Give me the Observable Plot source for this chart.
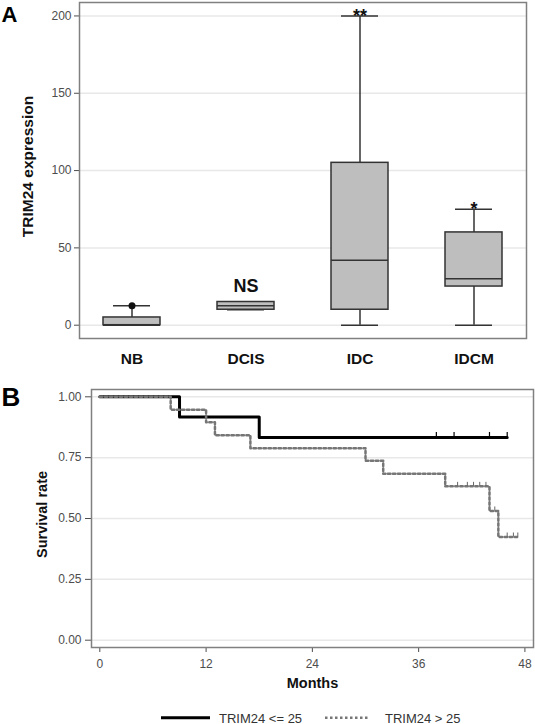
<!DOCTYPE html>
<html>
<head>
<meta charset="utf-8">
<script src="https://cdn.jsdelivr.net/npm/d3@7"></script>
<script src="https://cdn.jsdelivr.net/npm/@observablehq/plot@0.6"></script>
<style>
  body { margin: 0; background: #fff; }
  #wrap { position: relative; width: 535px; height: 724px; font-family: "Liberation Sans", Arial, sans-serif; background:#fff; overflow:hidden; }
  #a { position: absolute; left: 0; top: 0; }
  #b { position: absolute; left: 0; top: 372px; }
  #legend { position: absolute; left: 0; top: 709px; width: 535px; height: 15px; }
  #legend span { position: absolute; font-size: 13px; line-height: 15px; color: #333; white-space: nowrap; }
</style>
</head>
<body>
<div id="wrap">
  <div id="a"></div>
  <div id="b"></div>
  <div id="legend"></div>
</div>
<script>
// ---- Panel A: box plot data ----
const groups = ["NB", "DCIS", "IDC", "IDCM"];
const whiskerLow = [0, 10, 0, 0];
const q1 = [0, 10, 10, 25];
const median = [0, 12.5, 42, 30];
const q3 = [5, 15, 105, 60];
const whiskerHigh = [12.5, 15, 200, 75];
const outlierGroups = ["NB"];
const outlierValues = [12.5];
const sigLabels = ["", "NS", "**", "*"];
const sigY = [null, 25, 200, 75];
const yTicksA = [0, 50, 100, 150, 200];

// ---- Panel B: Kaplan-Meier data ----
const kmGroups = ["TRIM24 <= 25", "TRIM24 > 25"];
const lowTimes = [0, 9, 18, 46];
const lowSurv = [1, 0.917, 0.833, 0.833];
const lowCensorTimes = [38, 40, 44, 46];
const lowCensorSurv = [0.833, 0.833, 0.833, 0.833];
const highTimes = [0, 8, 12, 13, 17, 30, 32, 39, 44, 45, 47.2];
const highSurv = [1, 0.947, 0.895, 0.842, 0.789, 0.737, 0.684, 0.632, 0.531, 0.424, 0.424];
const highCensorTimes = [40.4, 41.5, 42.2, 42.9, 43.6, 44.6, 46.0, 46.7, 47.2];
const highCensorSurv = [0.632, 0.632, 0.632, 0.632, 0.632, 0.531, 0.424, 0.424, 0.424];
const xTicksB = [0, 12, 24, 36, 48];
const yTicksB = [0, 0.25, 0.5, 0.75, 1];

const FONT = "Liberation Sans, Arial, sans-serif";

// ---- build tables ----
const boxes = groups.map((g, i) => ({group: g, lo: whiskerLow[i], q1: q1[i], med: median[i], q3: q3[i], hi: whiskerHigh[i]}));
const outliers = outlierGroups.map((g, i) => ({group: g, value: outlierValues[i]}));
const sigs = groups.map((g, i) => ({group: g, label: sigLabels[i], y: sigY[i]})).filter(d => d.label);

const BOX = "#333333";
const chartA = Plot.plot({
  width: 535, height: 372,
  marginTop: 2, marginBottom: 34, marginLeft: 79, marginRight: 9,
  style: {fontFamily: FONT, fontSize: "12px", color: "#4d4d4d", background: "#fff"},
  x: {type: "band", domain: groups, paddingInner: 0.5, paddingOuter: 0.21},
  y: {domain: [-8.6, 208.7]},
  marks: [
    Plot.gridY(yTicksA, {stroke: "#e8e8e8", strokeOpacity: 1, strokeWidth: 1.5}),
    Plot.axisY(yTicksA, {tickSize: 5, tickPadding: 3, fontSize: 12, label: null}),
    Plot.axisX({tickSize: 0, tickPadding: 14, fontSize: 15.5, fontWeight: "bold", fill: "#111", label: null}),
    Plot.ruleX(boxes, {x: "group", y1: "lo", y2: "q1", stroke: BOX, strokeWidth: 1.5}),
    Plot.ruleX(boxes, {x: "group", y1: "q3", y2: "hi", stroke: BOX, strokeWidth: 1.5}),
    Plot.tickY(boxes, {x: "group", y: "lo", insetLeft: 10, insetRight: 10, stroke: BOX, strokeWidth: 1.5}),
    Plot.tickY(boxes, {x: "group", y: "hi", insetLeft: 10, insetRight: 10, stroke: BOX, strokeWidth: 1.5}),
    Plot.barY(boxes, {x: "group", y1: "q1", y2: "q3", fill: "#bebebe", stroke: BOX, strokeWidth: 1.5}),
    Plot.tickY(boxes, {x: "group", y: "med", stroke: BOX, strokeWidth: 1.5}),
    Plot.dot(outliers, {x: "group", y: "value", r: 3.5, fill: "#111", stroke: "none"}),
    Plot.text(sigs, {x: "group", y: "y", text: "label", fontSize: 18, fontWeight: "bold", fill: "#111"}),
    Plot.frame({stroke: "#808080", strokeWidth: 1.5}),
    Plot.text(["TRIM24 expression"], {frameAnchor: "left", textAnchor: "middle", rotate: -90, dx: -51, dy: -4, fontSize: 15.5, fontWeight: "bold", fill: "#111"}),
    Plot.text(["A"], {frameAnchor: "top-left", textAnchor: "start", lineAnchor: "top", dx: -78, dy: 4, fontSize: 22, fontWeight: "bold", fill: "#000"})
  ]
});
document.getElementById("a").appendChild(chartA);

// ---- Panel B ----
const lowLine = lowTimes.map((t, i) => ({t, s: lowSurv[i]}));
const highLine = highTimes.map((t, i) => ({t, s: highSurv[i]}));
const lowCens = lowCensorTimes.map((t, i) => ({t, s: lowCensorSurv[i]}));
const highCens = highCensorTimes.map((t, i) => ({t, s: highCensorSurv[i]}));

const SOLID = {stroke: "#000", strokeWidth: 3};
const DOTTED = {stroke: "#767676", strokeWidth: 2.5, strokeDasharray: "2.5,2.5"};

const chartB = Plot.plot({
  width: 535, height: 324,
  marginTop: 17, marginBottom: 49, marginLeft: 91, marginRight: 2,
  style: {fontFamily: FONT, fontSize: "12px", color: "#4d4d4d", background: "#fff"},
  x: {domain: [-0.94, 48.97]},
  y: {domain: [-0.03, 1.03]},
  marks: [
    Plot.gridY(yTicksB, {stroke: "#e8e8e8", strokeOpacity: 1, strokeWidth: 1.5}),
    Plot.axisY(yTicksB, {tickSize: 6, tickPadding: 4, tickFormat: d3.format(".2f"), fontSize: 12, label: null}),
    Plot.axisX(xTicksB, {tickSize: 5, tickPadding: 7, fontSize: 12, label: null}),
    Plot.line(lowLine, {x: "t", y: "s", curve: "step-after", ...SOLID}),
    Plot.ruleX(lowCens, {x: "t", y1: "s", y2: "s", insetTop: -5, stroke: "#000", strokeWidth: 1.2}),
    Plot.line(highLine, {x: "t", y: "s", curve: "step-after", ...DOTTED}),
    Plot.ruleX(highCens, {x: "t", y1: "s", y2: "s", insetTop: -4, stroke: "#666", strokeWidth: 1}),
    Plot.frame({stroke: "#808080", strokeWidth: 1.5}),
    Plot.text(["Survival rate"], {frameAnchor: "left", textAnchor: "middle", rotate: -90, dx: -49, dy: -4, fontSize: 14.5, fontWeight: "bold", fill: "#111"}),
    Plot.text(["Months"], {frameAnchor: "bottom", dy: 40, fontSize: 14.5, fontWeight: "bold", fill: "#111"}),
    Plot.text(["B"], {frameAnchor: "top-left", textAnchor: "start", lineAnchor: "top", dx: -90, dy: -2, fontSize: 26, fontWeight: "bold", fill: "#000"})
  ]
});
document.getElementById("b").appendChild(chartB);

// ---- Legend ----
const legend = document.getElementById("legend");
const keyStyles = [SOLID, DOTTED];
const keyX = [[161, 210], [325, 370]];
const textX = [219, 385];
const ns = "http://www.w3.org/2000/svg";
const svg = document.createElementNS(ns, "svg");
svg.setAttribute("width", 535); svg.setAttribute("height", 15);
svg.style.position = "absolute"; svg.style.left = "0"; svg.style.top = "0";
kmGroups.forEach((name, i) => {
  const ln = document.createElementNS(ns, "line");
  ln.setAttribute("x1", keyX[i][0]); ln.setAttribute("x2", keyX[i][1]);
  ln.setAttribute("y1", 8.7); ln.setAttribute("y2", 8.7);
  ln.setAttribute("stroke", keyStyles[i].stroke);
  ln.setAttribute("stroke-width", keyStyles[i].strokeWidth);
  if (keyStyles[i].strokeDasharray) ln.setAttribute("stroke-dasharray", keyStyles[i].strokeDasharray);
  svg.appendChild(ln);
  const sp = document.createElement("span");
  sp.textContent = name;
  sp.style.left = textX[i] + "px";
  sp.style.top = "1.5px";
  legend.appendChild(sp);
});
legend.insertBefore(svg, legend.firstChild);
</script>
</body>
</html>
